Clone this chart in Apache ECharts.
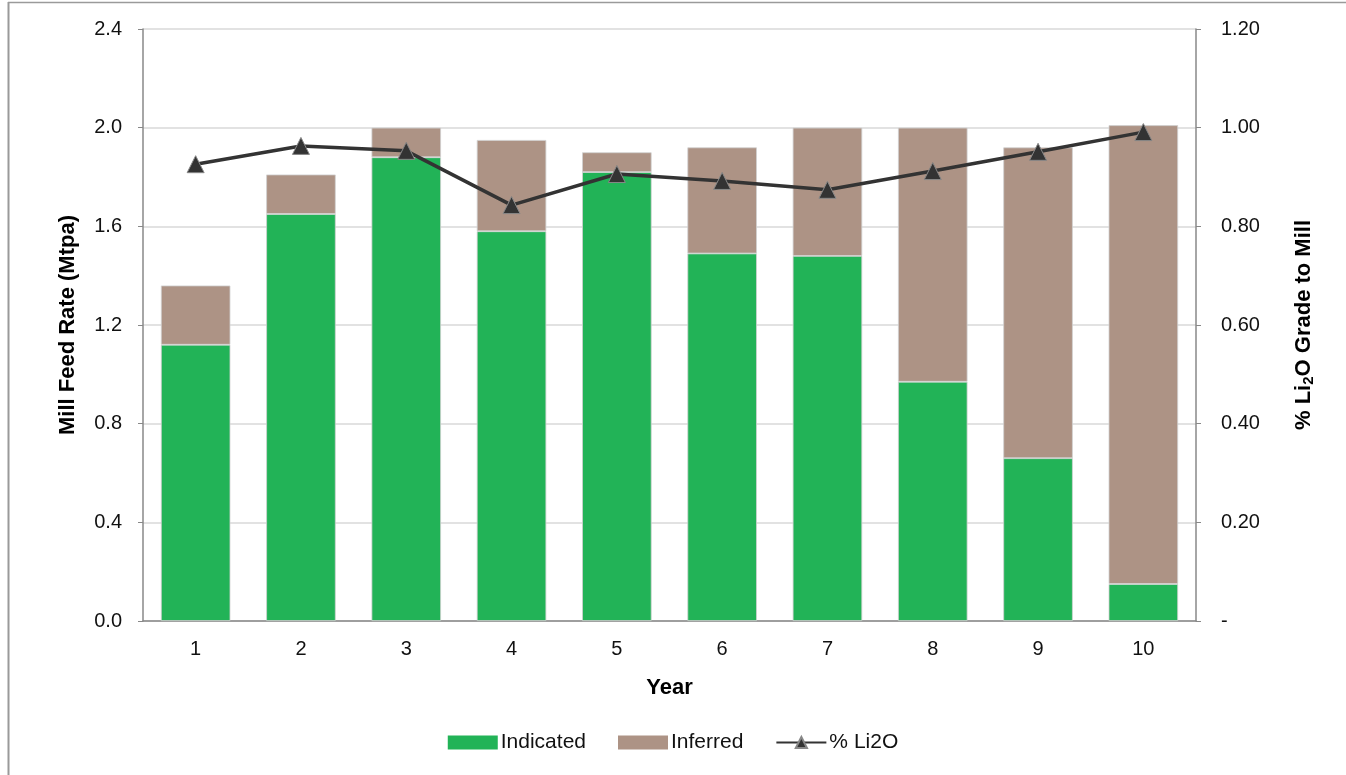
<!DOCTYPE html>
<html><head><meta charset="utf-8">
<script src="https://cdn.jsdelivr.net/npm/echarts@6/dist/echarts.min.js"></script>
<style>html,body{margin:0;padding:0;background:#fff}#c{width:1346px;height:775px}</style>
</head><body><div id="c"></div>
<script>
const years = ['1','2','3','4','5','6','7','8','9','10'];
const indicated = [1.12, 1.65, 1.88, 1.58, 1.82, 1.49, 1.48, 0.97, 0.66, 0.15];
const inferred = [0.24, 0.16, 0.12, 0.37, 0.08, 0.43, 0.52, 1.03, 1.26, 1.86];
const li2o = [0.926, 0.963, 0.953, 0.843, 0.906, 0.892, 0.874, 0.912, 0.951, 0.991];
const leftTicks = {min: 0, max: 2.4, interval: 0.4};
const rightTicks = {min: 0, max: 1.2, interval: 0.2};

const font = 'Liberation Sans, Arial, sans-serif';
const chart = echarts.init(document.getElementById('c'), null, {renderer: 'canvas'});
chart.setOption({
  animation: false,
  textStyle: {fontFamily: font},
  grid: {left: 143, right: 150, top: 29, bottom: 154},
  graphic: [
    {type: 'line', shape: {x1: 8.5, y1: 2, x2: 8.5, y2: 775}, style: {stroke: '#9a9a9a', lineWidth: 2}},
    {type: 'line', shape: {x1: 8, y1: 2.5, x2: 1346, y2: 2.5}, style: {stroke: '#9a9a9a', lineWidth: 1.5}}
  ],
  legend: {
    bottom: 17, left: 'center', itemGap: 32, itemWidth: 50, itemHeight: 14,
    textStyle: {fontSize: 21, color: '#111', fontFamily: font, padding: [0, 0, 0, -2]},
    data: [
      {name: 'Indicated', icon: 'rect', itemStyle: {borderWidth: 0}},
      {name: 'Inferred', icon: 'rect', itemStyle: {borderWidth: 0}},
      {name: '% Li2O'}
    ]
  },
  xAxis: {
    type: 'category', data: years,
    name: 'Year', nameLocation: 'middle', nameGap: 56,
    nameTextStyle: {fontSize: 22, fontWeight: 'bold', color: '#000'},
    axisLine: {lineStyle: {color: '#888', width: 1.5}},
    axisTick: {show: false},
    axisLabel: {fontSize: 20, color: '#111', margin: 18}
  },
  yAxis: [
    {
      type: 'value', min: leftTicks.min, max: leftTicks.max, interval: leftTicks.interval,
      name: 'Mill Feed Rate (Mtpa)', nameLocation: 'middle', nameGap: 64,
      nameTextStyle: {fontSize: 22, fontWeight: 'bold', color: '#000'},
      axisLine: {show: true, lineStyle: {color: '#888', width: 1.5}},
      axisTick: {show: true, length: 5, lineStyle: {color: '#888'}},
      axisLabel: {fontSize: 20, color: '#111', margin: 21, formatter: v => v.toFixed(1)},
      splitLine: {lineStyle: {color: '#d9d9d9', width: 1.5}}
    },
    {
      type: 'value', min: rightTicks.min, max: rightTicks.max, interval: rightTicks.interval,
      name: '% Li{sub|2}O Grade to Mill', nameLocation: 'middle', nameGap: 95, nameRotate: 90,
      nameTextStyle: {fontSize: 22, fontWeight: 'bold', color: '#000',
        rich: {sub: {fontSize: 15, fontWeight: 'bold', color: '#000', verticalAlign: 'bottom', padding: [10, 0, 0, 0]}}},
      axisLine: {show: true, lineStyle: {color: '#888', width: 1.5}},
      axisTick: {show: true, length: 5, lineStyle: {color: '#888'}},
      axisLabel: {fontSize: 20, color: '#111', margin: 25, formatter: v => v === 0 ? '-' : v.toFixed(2)},
      splitLine: {show: false}
    }
  ],
  series: [
    {name: 'Indicated', type: 'bar', stack: 'a', data: indicated, barWidth: '66%',
     itemStyle: {color: '#22B357', borderColor: '#d0d0d0', borderWidth: 0.8}},
    {name: 'Inferred', type: 'bar', stack: 'a', data: inferred, barWidth: '66%',
     itemStyle: {color: '#AD9385', borderColor: '#d0d0d0', borderWidth: 0.8}},
    {name: '% Li2O', type: 'line', yAxisIndex: 1, data: li2o,
     symbol: 'triangle', symbolSize: 17,
     lineStyle: {color: '#333', width: 3.5},
     itemStyle: {color: '#333', borderColor: '#888', borderWidth: 1}}
  ]
});
</script></body></html>
